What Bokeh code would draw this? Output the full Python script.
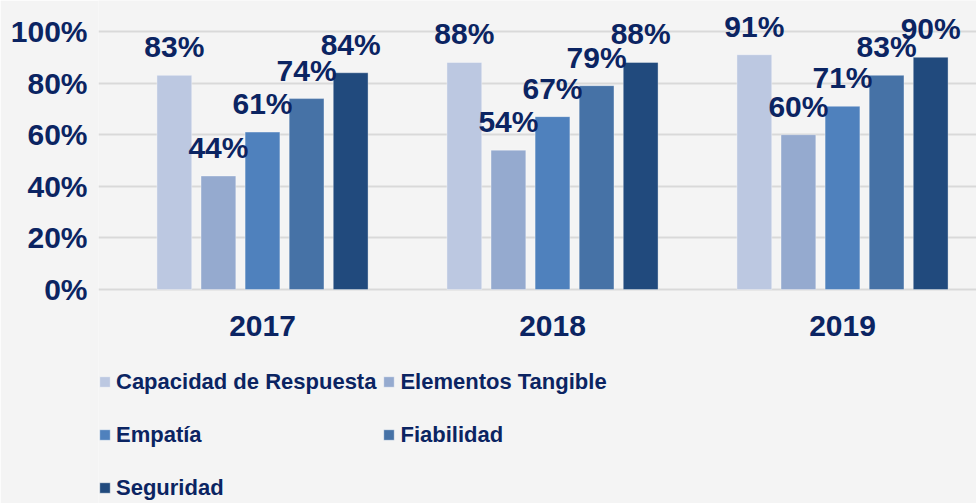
from bokeh.plotting import figure
from bokeh.models import ColumnDataSource, Range1d, FixedTicker, Legend, LegendItem, LabelSet, NumeralTickFormatter
from bokeh.core.properties import value
from bokeh.embed import file_html
from bokeh.resources import INLINE

years = ["2017", "2018", "2019"]
series = ["Capacidad de Respuesta", "Elementos Tangible", "Empatía", "Fiabilidad", "Seguridad"]
capacidad = [0.83, 0.88, 0.91]
elementos = [0.44, 0.54, 0.60]
empatia = [0.61, 0.67, 0.71]
fiabilidad = [0.74, 0.79, 0.83]
seguridad = [0.84, 0.88, 0.90]
values = [capacidad, elementos, empatia, fiabilidad, seguridad]
colors = ["#BCC8E1", "#95AACF", "#4F81BD", "#4672A6", "#214A7D"]

TEXT = "#0B2462"
BG = "#F4F4F4"
FONT = "Liberation Sans"

W, H = 976, 503
left = 98
zero_px = 289.0   # screen y of 0%
ppu_x = 290.0
x_start = -0.5 - (117 - left) / ppu_x
x_end = x_start + (W - left) / ppu_x
ppu_y = 258.0
y_start = -(H - zero_px) / ppu_y
y_end = zero_px / ppu_y

p = figure(width=W, height=H, output_backend="svg", toolbar_location=None,
           x_range=Range1d(x_start, x_end), y_range=Range1d(y_start, y_end),
           min_border_left=left, min_border_right=0, min_border_top=0,
           min_border_bottom=0)
p.background_fill_color = BG
p.border_fill_color = BG
p.outline_line_color = None

step = 0.152
bw = 0.12
items = []
for i, (name, vals, col) in enumerate(zip(series, values, colors)):
    xs = [j + (i - 2) * step for j in range(len(years))]
    src = ColumnDataSource(dict(x=xs, top=vals, lab=[f"{round(v*100)}%" for v in vals]))
    r = p.vbar(x="x", top="top", bottom=0, width=bw, source=src, fill_color=col,
               line_color="#FFFFFF", line_alpha=0.35, line_width=1)
    items.append(LegendItem(label=name, renderers=[r]))
    lbl = LabelSet(x="x", y="top", text="lab", source=src, text_align="center",
                   text_baseline="alphabetic", y_offset=18, text_font=value(FONT),
                   text_font_style="bold", text_font_size="30px", text_color=TEXT)
    p.add_layout(lbl)

p.xaxis.ticker = FixedTicker(ticks=[0, 1, 2])
p.xaxis.major_label_overrides = {0: years[0], 1: years[1], 2: years[2]}
p.xaxis.fixed_location = 0
p.yaxis.ticker = FixedTicker(ticks=[0, 0.2, 0.4, 0.6, 0.8, 1.0])
p.yaxis.formatter = NumeralTickFormatter(format="0%")
for ax in (p.xaxis, p.yaxis):
    ax.axis_line_color = None
    ax.major_tick_line_color = None
    ax.minor_tick_line_color = None
    ax.major_label_text_font = FONT
    ax.major_label_text_font_style = "bold"
    ax.major_label_text_font_size = "30px"
    ax.major_label_text_color = TEXT
p.yaxis.major_label_standoff = 5
p.xaxis.major_label_standoff = 20
p.xgrid.grid_line_color = None
p.ygrid.ticker = FixedTicker(ticks=[0, 0.2, 0.4, 0.6, 0.8, 1.0])
p.ygrid.grid_line_color = "#D9D9D9"
p.ygrid.grid_line_width = 2

legend = Legend(items=items, orientation="horizontal", ncols=2, location=(0, -8),
                background_fill_alpha=0, border_line_color=None,
                padding=0, margin=0, spacing=6, label_height=47,
                glyph_width=13, glyph_height=13, label_standoff=5,
                label_text_font=FONT, label_text_font_style="bold",
                label_text_font_size="22px", label_text_color=TEXT)
p.add_layout(legend, "center")

open("out.html", "w").write(file_html(p, INLINE))
